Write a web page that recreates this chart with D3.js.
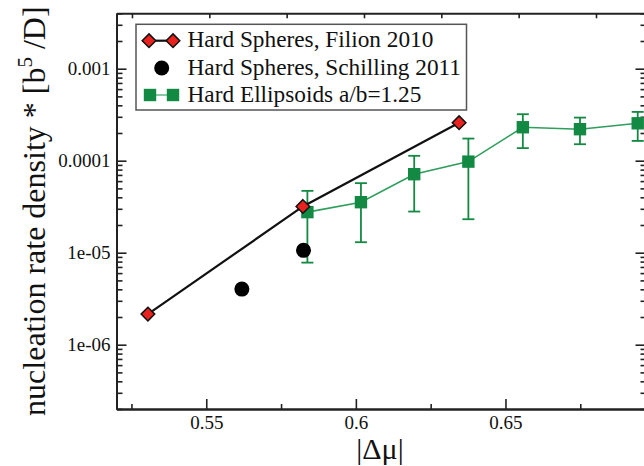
<!DOCTYPE html>
<html>
<head>
<meta charset="utf-8">
<script src="https://cdn.jsdelivr.net/npm/d3@7"></script>
<style>
  body { margin: 0; background: #fff; }
  svg { display: block; }
</style>
</head>
<body>
<div id="chart"></div>
<script>
// data
const filionX = [0.5305, 0.5823, 0.6345];
const filionY = [2.15e-6, 3.18e-5, 2.59e-4];

const schillingX = [0.5619, 0.5825];
const schillingY = [4.02e-6, 1.06e-5];

const ellipsoidX = [0.5838, 0.6017, 0.6195, 0.6376, 0.6558, 0.6749, 0.6942];
const ellipsoidY = [2.76e-5, 3.54e-5, 7.13e-5, 9.77e-5, 2.31e-4, 2.20e-4, 2.55e-4];
const ellipsoidHi = [4.7e-5, 5.7e-5, 1.13e-4, 1.74e-4, 3.2e-4, 2.94e-4, 3.39e-4];
const ellipsoidLo = [7.8e-6, 1.30e-5, 2.8e-5, 2.31e-5, 1.37e-4, 1.51e-4, 1.64e-4];

const legendLabels = ["Hard Spheres, Filion 2010", "Hard Spheres, Schilling 2011", "Hard Ellipsoids a/b=1.25"];

const xMajor = [0.55, 0.6, 0.65];
const xMajorLabels = ["0.55", "0.6", "0.65"];
const xMinor = [0.525, 0.575, 0.625, 0.675];
const yMajor = [1e-6, 1e-5, 1e-4, 1e-3];
const yMajorLabels = ["1e-06", "1e-05", "0.0001", "0.001"];
const topTicks = [0, 1, 2, 3, 4, 5, 6];

const width = 644;
const height = 466;
const padL = 116.5, padR = 645.5, padT = 13.3, padB = 409;
const serif = "'Liberation Serif', 'Times New Roman', Times, serif";

const red = "#e8221e";
const green = "#138a43";

const svg = d3.select('#chart')
  .append('svg')
  .attr('width', width)
  .attr('height', height)
  .style('font-family', serif)

const xScale = d3.scaleLinear()
  .domain([0.52, 0.6968])
  .range([padL, padR])

const yScale = d3.scaleLog()
  .domain([2e-7, 4e-3])
  .range([padB, padT])

const topScale = d3.scaleLinear()
  .domain([-0.2, 6.64])
  .range([padL, padR])

// log minor ticks, 2..9 of each decade in the domain
const yMinor = [];
[1e-7, 1e-6, 1e-5, 1e-4, 1e-3].forEach(d => {
  for (let k = 2; k <= 9; k++) {
    const v = k * d;
    if (v >= 2e-7 && v <= 4e-3) yMinor.push(v);
  }
});

function styleAxis(g) {
  g.select('.domain').attr('stroke', '#222').attr('stroke-width', 2)
  g.selectAll('.tick line').attr('stroke', '#222').attr('stroke-width', 1.6)
  g.selectAll('.tick text')
    .attr('fill', '#111')
    .style('font-family', serif)
    .style('font-size', '19px')
}

// bottom axis
svg.append('g')
  .attr('transform', `translate(0, ${padB})`)
  .call(d3.axisBottom(xScale).tickValues(xMinor).tickSize(-5).tickSizeOuter(0).tickFormat(''))
  .call(styleAxis)
svg.append('g')
  .attr('transform', `translate(0, ${padB})`)
  .call(d3.axisBottom(xScale).tickValues(xMajor).tickSize(-10).tickSizeOuter(0).tickPadding(7)
    .tickFormat((d, i) => xMajorLabels[i]))
  .call(styleAxis)

// top axis (unlabelled ticks)
svg.append('g')
  .attr('transform', `translate(0, ${padT})`)
  .call(d3.axisTop(topScale).tickValues(topTicks).tickSize(-5).tickSizeOuter(0).tickFormat(''))
  .call(styleAxis)

// left axis
svg.append('g')
  .attr('transform', `translate(${padL}, 0)`)
  .call(d3.axisLeft(yScale).tickValues(yMinor).tickSize(-6).tickSizeOuter(0).tickFormat(''))
  .call(styleAxis)
svg.append('g')
  .attr('transform', `translate(${padL}, 0)`)
  .call(d3.axisLeft(yScale).tickValues(yMajor).tickSize(-10).tickSizeOuter(0).tickPadding(6)
    .tickFormat((d, i) => yMajorLabels[i]))
  .call(styleAxis)

// right axis
svg.append('g')
  .attr('transform', `translate(${padR}, 0)`)
  .call(d3.axisLeft(yScale).tickValues(yMinor).tickSize(5).tickSizeOuter(0).tickFormat(''))
  .call(styleAxis)
svg.append('g')
  .attr('transform', `translate(${padR}, 0)`)
  .call(d3.axisLeft(yScale).tickValues(yMajor).tickSize(10).tickSizeOuter(0).tickFormat(''))
  .call(styleAxis)

// ellipsoids: line, error bars, squares
const ell = ellipsoidX.map((x, i) => ({ x, y: ellipsoidY[i], hi: ellipsoidHi[i], lo: ellipsoidLo[i] }));
const line = d3.line().x(d => xScale(d.x)).y(d => yScale(d.y));

svg.append('path')
  .datum(ell)
  .attr('d', line)
  .attr('fill', 'none')
  .attr('stroke', '#2e9e5c')
  .attr('stroke-width', 1.6)

const err = svg.append('g').attr('stroke', green).attr('stroke-width', 1.8)
err.selectAll('.bar').data(ell).join('line')
  .attr('x1', d => xScale(d.x)).attr('x2', d => xScale(d.x))
  .attr('y1', d => yScale(d.hi)).attr('y2', d => yScale(d.lo))
err.selectAll('.caphi').data(ell).join('line')
  .attr('x1', d => xScale(d.x) - 6).attr('x2', d => xScale(d.x) + 6)
  .attr('y1', d => yScale(d.hi)).attr('y2', d => yScale(d.hi))
err.selectAll('.caplo').data(ell).join('line')
  .attr('x1', d => xScale(d.x) - 6).attr('x2', d => xScale(d.x) + 6)
  .attr('y1', d => yScale(d.lo)).attr('y2', d => yScale(d.lo))

svg.selectAll('.sq').data(ell).join('rect')
  .attr('x', d => xScale(d.x) - 6.2)
  .attr('y', d => yScale(d.y) - 6.2)
  .attr('width', 12.4)
  .attr('height', 12.4)
  .attr('fill', green)

// Filion: black line + red diamonds
const fil = filionX.map((x, i) => ({ x, y: filionY[i] }));
svg.append('path')
  .datum(fil)
  .attr('d', line)
  .attr('fill', 'none')
  .attr('stroke', '#111')
  .attr('stroke-width', 2.2)

const diamond = (cx, cy, r) => `M${cx},${cy - r}L${cx + r},${cy}L${cx},${cy + r}L${cx - r},${cy}Z`;

svg.selectAll('.dia').data(fil).join('path')
  .attr('d', d => diamond(xScale(d.x), yScale(d.y), 6.8))
  .attr('fill', red)
  .attr('stroke', '#111')
  .attr('stroke-width', 1.5)

// Schilling: black circles
svg.selectAll('.dot').data(schillingX).join('circle')
  .attr('cx', d => xScale(d))
  .attr('cy', (d, i) => yScale(schillingY[i]))
  .attr('r', 7.5)
  .attr('fill', '#000')

// legend
const lg = svg.append('g')
lg.append('rect')
  .attr('x', 136).attr('y', 24.3)
  .attr('width', 330.5).attr('height', 85.7)
  .attr('fill', '#fff')
  .attr('stroke', '#555')
  .attr('stroke-width', 1.5)

const rowY = [40.7, 68, 95];
legendLabels.forEach((t, i) => {
  lg.append('text')
    .attr('x', 187.5).attr('y', rowY[i] + 6.5)
    .style('font-family', serif)
    .style('font-size', '23.3px')
    .attr('fill', '#111')
    .text(t)
});

lg.append('line').attr('x1', 149).attr('x2', 173).attr('y1', rowY[0]).attr('y2', rowY[0])
  .attr('stroke', '#111').attr('stroke-width', 2.2)
;[149, 173].forEach(x => lg.append('path').attr('d', diamond(x, rowY[0], 6.8))
  .attr('fill', red).attr('stroke', '#111').attr('stroke-width', 1.5));

lg.append('circle').attr('cx', 161.7).attr('cy', rowY[1]).attr('r', 7.5).attr('fill', '#000')

lg.append('line').attr('x1', 150).attr('x2', 173).attr('y1', rowY[2]).attr('y2', rowY[2])
  .attr('stroke', '#7cc49a').attr('stroke-width', 1.8)
;[150, 173].forEach(x => lg.append('rect').attr('x', x - 6.2).attr('y', rowY[2] - 6.2)
  .attr('width', 12.4).attr('height', 12.4).attr('fill', green));

// axis titles
const yTitle = svg.append('text')
  .attr('transform', 'rotate(-90)')
  .attr('x', -(padT + padB) / 2)
  .attr('y', 44.5)
  .attr('text-anchor', 'middle')
  .style('font-family', serif)
  .style('font-size', '32px')
  .attr('fill', '#111')
yTitle.append('tspan').text('nucleation rate density * [b')
yTitle.append('tspan').attr('dy', -13).style('font-size', '21px').text('5')
yTitle.append('tspan').attr('dy', 13).text(' /D]')

svg.append('text')
  .attr('x', (padL + padR) / 2 - 1)
  .attr('y', 459)
  .attr('text-anchor', 'middle')
  .style('font-family', serif)
  .style('font-size', '30px')
  .attr('fill', '#111')
  .text('|Δμ|')
</script>
</body>
</html>
